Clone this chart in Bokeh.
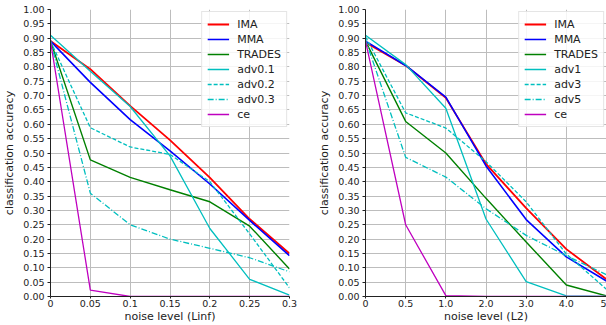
from bokeh.plotting import figure
from bokeh.layouts import row
from bokeh.models import Range1d, FixedTicker, NumeralTickFormatter, Legend, LegendItem
from bokeh.embed import file_html
from bokeh.resources import INLINE

# ---- data ----
x_idx = [0, 1, 2, 3, 4, 5, 6]
left_xlabels = ["0", "0.05", "0.1", "0.15", "0.2", "0.25", "0.3"]
right_xlabels = ["0", "0.5", "1.0", "2.0", "3.0", "4.0", "5"]

left_names = ["IMA", "MMA", "TRADES", "adv0.1", "adv0.2", "adv0.3", "ce"]
left_IMA = [0.89, 0.792, 0.664, 0.545, 0.414, 0.27, 0.15]
left_MMA = [0.89, 0.746, 0.616, 0.507, 0.392, 0.265, 0.142]
left_TRADES = [0.89, 0.476, 0.415, 0.372, 0.33, 0.245, 0.096]
left_adv1 = [0.91, 0.785, 0.662, 0.49, 0.237, 0.06, 0.005]
left_adv2 = [0.89, 0.588, 0.521, 0.495, 0.40, 0.218, 0.03]
left_adv3 = [0.89, 0.36, 0.25, 0.20, 0.168, 0.135, 0.086]
left_ce = [0.89, 0.022, 0.0, 0.0, 0.0, 0.0, 0.0]

right_names = ["IMA", "MMA", "TRADES", "adv1", "adv3", "adv5", "ce"]
right_IMA = [0.885, 0.805, 0.692, 0.462, 0.308, 0.165, 0.06]
right_MMA = [0.89, 0.805, 0.695, 0.455, 0.268, 0.138, 0.054]
right_TRADES = [0.89, 0.61, 0.50, 0.342, 0.19, 0.04, 0.002]
right_adv1 = [0.91, 0.808, 0.656, 0.27, 0.052, 0.002, 0.0]
right_adv3 = [0.905, 0.64, 0.587, 0.47, 0.33, 0.148, 0.025]
right_adv5 = [0.895, 0.485, 0.416, 0.306, 0.213, 0.142, 0.076]
right_ce = [0.89, 0.25, 0.003, 0.0, 0.0, 0.0, 0.0]

y_ticks = [round(i * 0.05, 2) for i in range(21)]

colors = ["#ff0000", "#0000ff", "#008000", "#00bfbf", "#00bfbf", "#00bfbf", "#bf00bf"]
dashes = ["solid", "solid", "solid", "solid", "4 2", "6 2 1 2", "solid"]
widths = [1.8, 1.6, 1.4, 1.3, 1.3, 1.3, 1.3]
FONT = "DejaVu Sans"


def make(series, names, xlabels, xlabel, width, border_left, border_right):
    p = figure(width=width, height=325, output_backend="svg", toolbar_location=None,
               x_range=Range1d(0, 6), y_range=Range1d(0, 1),
               min_border_left=border_left, min_border_right=border_right,
               min_border_top=9, min_border_bottom=28)
    p.background_fill_color = "white"
    p.border_fill_color = "white"
    p.outline_line_color = None
    p.xaxis.ticker = FixedTicker(ticks=x_idx)
    p.xaxis.major_label_overrides = {i: s for i, s in zip(x_idx, xlabels)}
    p.yaxis.ticker = FixedTicker(ticks=y_ticks)
    p.yaxis.formatter = NumeralTickFormatter(format="0.00")
    for ax in (p.xaxis, p.yaxis):
        ax.major_label_text_font = FONT
        ax.major_label_text_font_size = "9.5px"
        ax.major_label_text_color = "#222222"
        ax.axis_label_text_font = FONT
        ax.axis_label_text_font_size = "11px"
        ax.axis_label_text_font_style = "normal"
        ax.axis_label_text_color = "#222222"
        ax.minor_tick_line_color = None
        ax.major_tick_in = 0
        ax.axis_line_color = "#222222"
        ax.major_tick_line_color = "#222222"
    p.yaxis.major_tick_out = 3
    p.yaxis.major_label_standoff = 3
    p.yaxis.axis_label_standoff = 4
    p.xaxis.major_tick_out = 2
    p.xaxis.major_label_standoff = 1
    p.xaxis.axis_label_standoff = 0
    p.xaxis.axis_label = xlabel
    p.yaxis.axis_label = "classification accuracy"
    p.xgrid.grid_line_color = "#bdbdbd"
    p.ygrid.grid_line_color = "#bdbdbd"
    p.xgrid.ticker = FixedTicker(ticks=x_idx)
    p.ygrid.ticker = FixedTicker(ticks=y_ticks)

    items = []
    for ys, name, c, d, w in zip(series, names, colors, dashes, widths):
        r = p.line(x_idx, ys, line_color=c, line_dash=d, line_width=w)
        items.append(LegendItem(label=name, renderers=[r]))
    leg = Legend(items=items, location="top_right")
    leg.label_text_font = FONT
    leg.label_text_font_size = "11px"
    leg.label_text_color = "#222222"
    leg.border_line_color = "#cccccc"
    leg.background_fill_alpha = 0.85
    leg.glyph_width = 22
    leg.glyph_height = 14
    leg.label_height = 14
    leg.spacing = 1
    leg.padding = 5
    leg.margin = 2
    leg.label_standoff = 8
    p.add_layout(leg)
    return p


p1 = make([left_IMA, left_MMA, left_TRADES, left_adv1, left_adv2, left_adv3, left_ce],
          left_names, left_xlabels, "noise level (Linf)", 300, 49, 11)
p2 = make([right_IMA, right_MMA, right_TRADES, right_adv1, right_adv3, right_adv5, right_ce],
          right_names, right_xlabels, "noise level (L2)", 306, 65, 0)

layout = row(p1, p2)
open("out.html", "w").write(file_html(layout, INLINE))
